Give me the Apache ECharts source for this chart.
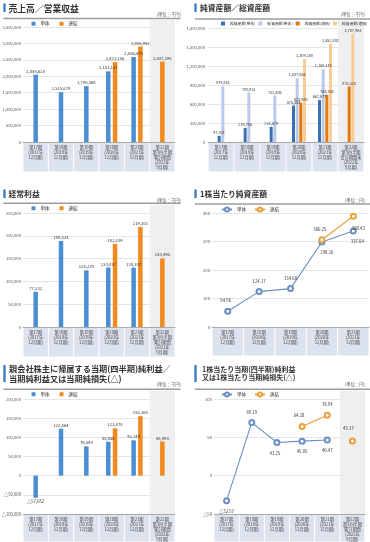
<!DOCTYPE html>
<html><head><meta charset="utf-8">
<script src="https://cdn.jsdelivr.net/npm/echarts@6/dist/echarts.min.js"></script>
<style>
html,body{margin:0;padding:0;background:#fff;}
#wrap{position:relative;width:370px;height:542px;overflow:hidden;}
.p{position:absolute;width:185px;}
</style>
</head><body><div id="wrap">
<div class="p" id="p1" style="left:0;top:0;height:180px"></div>
<div class="p" id="p2" style="left:185px;top:0;height:180px"></div>
<div class="p" id="p3" style="left:0;top:180px;height:180px"></div>
<div class="p" id="p4" style="left:185px;top:180px;height:180px"></div>
<div class="p" id="p5" style="left:0;top:360px;height:182px"></div>
<div class="p" id="p6" style="left:185px;top:360px;height:182px"></div>
</div>
<script>
// ---------- categories ----------
const catFY = ['第17期\n(2017年\n12月期)', '第18期\n(2018年\n12月期)', '第19期\n(2019年\n12月期)', '第20期\n(2020年\n12月期)', '第21期\n(2021年\n12月期)'];
const cat22Cum = '第22期\n第3四半期\n累計期間\n(2022年\n9月期)';
const cat22Bal = '第22期\n第3四半期\n会計期間末\n(2022年\n9月期)';

// ---------- values ----------
const salesTantai = [2048625, 1515679, 1700868, 2151137, 2586479, null];
const salesRenketsu = [null, null, null, 2431156, 2905953, 2447395];

const netAssetsTantai = [97821, 219785, 238579, 575443, 662677, null];
const totalAssetsTantai = [879844, 780931, 732406, 1007664, 1150318, null];
const netAssetsRenketsu = [null, null, null, 621980, 744758, 875325];
const totalAssetsRenketsu = [null, null, null, 1309268, 1552801, 1707904];

const ordTantai = [77332, 188524, 124229, 130417, 130107, null];
const ordRenketsu = [null, null, null, 182109, 219303, 150496];

const bpsTantai = [54.96, 124.17, 134.68, 298.16, 337.04];
const bpsRenketsu = [null, null, null, 306.25, 388.43];

const niTantai = [-57652, 122464, 76548, 88456, 92149, null];
const niRenketsu = [null, null, null, 123478, 155168, 88998];

const epsTantai = [-32.57, 69.19, 43.25, 45.05, 46.47, null];
const epsRenketsu = [null, null, null, 64.28, 78.94, 45.37];

// ---------- styles ----------
const FONT = '"Noto Sans CJK JP","Noto Sans",sans-serif';
const BLUE = '#4a8fd4', ORANGE = '#f08a1d';
const LBLUE = '#6a8fc4', LORANGE = '#e9a03a';
const Q = {nT:'#3a6eb5', tT:'#b9c9e9', nR:'#e5780e', tR:'#f9cc95'};

const comma = n => String(n).replace(/\B(?=(\d{3})+(?!\d))/g, ',');
const fmtInt = v => (v < 0 ? '△' : '') + comma(Math.abs(v));
const fmtDec = v => (v < 0 ? '△' : '') + Math.abs(v).toFixed(2);
const has = (a, i) => a[i] != null;

function barLabel(v, fs) {
  return {show:true, position: v < 0 ? 'bottom' : 'top', distance:1.5, fontSize:fs, color:'#333',
          fontFamily:FONT, formatter: p => fmtInt(p.value)};
}

function pairBars(t, r) {
  const idx = t.map((_, i) => i);
  const it = (v, c) => ({value:v, itemStyle:{color:c}, label:barLabel(v, 4.2)});
  const base = {type:'bar', barWidth:4.5, barGap:'-25%'};
  return [
    {...base, name:'単体', itemStyle:{color:BLUE}, data: idx.map(i => has(t,i) && has(r,i) ? it(t[i], BLUE) : '-')},
    {...base, name:'_mid', itemStyle:{color:BLUE}, data: idx.map(i => has(t,i) && !has(r,i) ? it(t[i], BLUE) : (!has(t,i) && has(r,i) ? it(r[i], ORANGE) : '-'))},
    {...base, name:'連結', itemStyle:{color:ORANGE}, data: idx.map(i => has(t,i) && has(r,i) ? it(r[i], ORANGE) : '-')}
  ];
}

function quadBars(nT, tT, nR, tR) {
  const idx = nT.map((_, i) => i);
  const it = (v, c) => ({value:v, itemStyle:{color:c}, label:barLabel(v, 3.8)});
  const both = i => has(nT,i) && has(nR,i);
  const onlyT = i => has(nT,i) && !has(nR,i);
  const base = {type:'bar', barWidth:3, barGap:'22%'};
  return [
    {...base, name:'純資産額(単体)', itemStyle:{color:Q.nT}, data: idx.map(i => both(i) ? it(nT[i], Q.nT) : '-')},
    {...base, name:'総資産額(単体)', itemStyle:{color:Q.tT}, data: idx.map(i => both(i) ? it(tT[i], Q.tT) : (onlyT(i) ? it(nT[i], Q.nT) : it(nR[i], Q.nR)))},
    {...base, name:'純資産額(連結)', itemStyle:{color:Q.nR}, data: idx.map(i => both(i) ? it(nR[i], Q.nR) : (onlyT(i) ? it(tT[i], Q.tT) : it(tR[i], Q.tR)))},
    {...base, name:'総資産額(連結)', itemStyle:{color:Q.tR}, data: idx.map(i => both(i) ? it(tR[i], Q.tR) : '-')}
  ];
}

function lineSeries(name, color, values, pos) {
  return {
    type:'line', name, connectNulls:false, symbol:'emptyCircle', symbolSize:5,
    itemStyle:{color, borderWidth:1}, lineStyle:{color, width:1.1},
    data: values.map((v, i) => v == null ? '-' : {value:v, label:{show:true, position:pos[i][0], offset:pos[i][1] || [0,0],
      fontSize:4.3, color:'#333', fontFamily:FONT, formatter: p => fmtDec(p.value)}})
  };
}

function build(id, c) {
  const n = c.cats.length;
  const bw = c.grid.width / n;
  const g = [
    {type:'rect', shape:{x:c.icon[0], y:c.icon[1], width:2.4, height:c.icon[2]}, style:{fill:'#3b7dc6'}},
    {type:'line', shape:{x1:c.line[0], y1:c.line[2], x2:c.line[1], y2:c.line[2]}, style:{stroke:'#9c9c9c', lineWidth:1.4}},
    {type:'text', x:c.unit[0], y:c.unit[1], style:{text:c.unitText, fontSize:4.3, fill:'#555', align:'right', verticalAlign:'middle', fontFamily:FONT}}
  ];
  if (c.hasQ) g.push({type:'rect', z:-10, shape:{x:c.grid.left + bw*(n-1), y:c.line[2] + 1.5, width:bw, height:c.grid.top - c.line[2] - 1.5}, style:{fill:'#efefef'}});
  const areaCols = []; for (let i = 0; i < n - 1; i++) areaCols.push('rgba(0,0,0,0)'); areaCols.push('#efefef');
  const opt = {
    animation:false,
    textStyle:{fontFamily:FONT},
    title:{text:c.title, left:c.titlePos[0], top:c.titlePos[1], padding:0,
      textStyle:{fontSize:c.titleSize, lineHeight:c.titleLH || c.titleSize + 2, fontWeight:'bold', color:'#333', fontFamily:FONT}},
    graphic:g,
    legend:Object.assign({left:c.legend.left, top:c.legend.top, padding:0, data:c.legend.data, itemGap:c.legend.gap,
      itemWidth:c.legend.iw, itemHeight:c.legend.ih, textStyle:{fontSize:c.legend.fs, color:'#333', fontFamily:FONT}},
      c.legend.icon ? {icon:c.legend.icon} : {}),
    grid:Object.assign({containLabel:false, outerBoundsMode:'none'}, c.grid),
    xAxis:{type:'category', data:c.cats, boundaryGap:true, axisTick:{show:false},
      axisLine:{show:true, onZero:false, lineStyle:{color:'#9a9a9a', width:0.8}},
      axisLabel:{interval:0, margin:1, fontSize:4.2, lineHeight:5.2, color:'#444', backgroundColor:'#dce3ee',
        width:bw - 1, height:c.tileH, padding:[1.5,0,0,0], align:'center', verticalAlign:'top', fontFamily:FONT},
      splitLine:{show:false},
      splitArea:c.hasQ ? {show:true, areaStyle:{color:areaCols}} : {show:false}},
    yAxis:{type:'value', min:c.y[0], max:c.y[1], interval:c.y[2], axisLine:{show:false}, axisTick:{show:false},
      axisLabel:{fontSize:4.2, color:'#555', margin:c.ym || 2, formatter:c.yfmt, fontFamily:FONT},
      splitLine:{lineStyle:{color:'#dadada', width:0.7}}},
    series:c.series
  };
  const ch = echarts.init(document.getElementById(id), null, {renderer:'canvas'});
  ch.setOption(opt);
}

const legendPair = (left, top) => ({left, top, data:['単体','連結'], gap:10, iw:4, ih:4, fs:4.5, icon:'rect'});
const legendLine = (left, top) => ({left, top, data:['単体','連結'], gap:8, iw:10, ih:5, fs:4.5});

// P1
build('p1', {
  title:'売上高／営業収益', titlePos:[8.5,3], titleSize:8.8,
  icon:[3.3,3.5,8.5], line:[3.3,180.5,18.5], unit:[181,14.5], unitText:'(単位：千円)',
  legend:legendPair(31.5,21.5),
  grid:{left:23, top:27, width:152, height:115}, tileH:27, hasQ:true,
  cats:catFY.concat([cat22Cum]), y:[0,3500000,500000], yfmt:fmtInt,
  series:pairBars(salesTantai, salesRenketsu)
});

// P2
build('p2', {
  title:'純資産額／総資産額', titlePos:[15,3.5], titleSize:7.8,
  icon:[9.3,3.5,8.5], line:[10,185,19], unit:[180,14.5], unitText:'(単位：千円)',
  legend:{left:36, top:21.5, data:['純資産額(単体)','総資産額(単体)','純資産額(連結)','総資産額(連結)'], gap:3, iw:4, ih:4, fs:3.8, icon:'rect'},
  grid:{left:23, top:28, width:156, height:114}, tileH:27, hasQ:true, ym:3,
  cats:catFY.concat([cat22Bal]), y:[0,1800000,300000], yfmt:fmtInt,
  series:quadBars(netAssetsTantai, totalAssetsTantai, netAssetsRenketsu, totalAssetsRenketsu)
});

// P3
build('p3', {
  title:'経常利益', titlePos:[8.5,9], titleSize:7.8,
  icon:[3.3,9.5,8.5], line:[3.3,180.5,23.3], unit:[181,20], unitText:'(単位：千円)',
  legend:legendPair(31.5,26),
  grid:{left:23, top:33, width:152, height:114}, tileH:27, hasQ:true,
  cats:catFY.concat([cat22Cum]), y:[0,250000,50000], yfmt:fmtInt,
  series:pairBars(ordTantai, ordRenketsu)
});

// P4
build('p4', {
  title:'1株当たり純資産額', titlePos:[15,9], titleSize:7.8,
  icon:[9.3,9.5,8.5], line:[10,185,24], unit:[180,20], unitText:'(単位：円)',
  legend:legendLine(36,26.5),
  grid:{left:27, top:33, width:157, height:114}, tileH:26, hasQ:false,
  cats:catFY, y:[0,400,100], yfmt:v => String(v),
  series:[
    lineSeries('単体', LBLUE, bpsTantai, [['top',[-2,0]],['top'],['top'],['bottom',[5,0]],['bottom',[4,0]]]),
    lineSeries('連結', LORANGE, bpsRenketsu, [null,null,null,['top',[-2,0]],['bottom',[5,1]]])
  ]
});

// P5
build('p5', {
  title:'親会社株主に帰属する当期(四半期)純利益／\n当期純利益又は当期純損失(△)', titlePos:[9,3.5], titleSize:8.2, titleLH:10,
  icon:[3.3,5,17], line:[3.3,180.5,29.3], unit:[181,24.5], unitText:'(単位：千円)',
  legend:legendPair(31.5,32),
  grid:{left:23, top:39, width:152, height:115}, tileH:25, hasQ:true,
  cats:catFY.concat([cat22Cum]), y:[-100000,200000,50000], yfmt:fmtInt,
  series:pairBars(niTantai, niRenketsu)
});

// P6
const epsLine = epsRenketsu.map((v, i) => i < 5 ? v : null);
const epsQ = epsRenketsu.map((v, i) => i === 5 ? v : null);
const s6 = lineSeries('連結', LORANGE, epsQ, [null,null,null,null,null,['top',[-4,-2]]]);
build('p6', {
  title:'1株当たり当期(四半期)純利益\n又は1株当たり当期純損失(△)', titlePos:[17,5], titleSize:7, titleLH:8.5,
  icon:[9.3,5,17], line:[10,185,29.3], unit:[180,24.5], unitText:'(単位：円)',
  legend:legendLine(36,31.5),
  grid:{left:29, top:39, width:151, height:115}, tileH:25, hasQ:true,
  cats:catFY.concat([cat22Cum]), y:[-50,100,50], yfmt:v => (v < 0 ? '△' : '') + Math.abs(v),
  series:[
    lineSeries('単体', LBLUE, epsTantai, [['bottom'],['top'],['bottom',[-2,0]],['bottom'],['bottom'],null]),
    lineSeries('連結', LORANGE, epsLine, [null,null,null,['top',[-3,0]],['top'],null]),
    s6
  ]
});
</script></body></html>
